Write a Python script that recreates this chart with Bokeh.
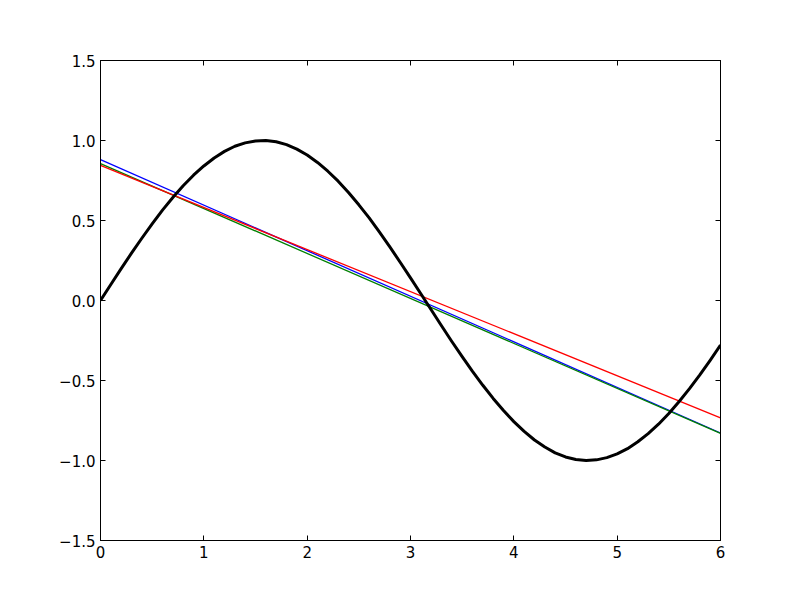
from bokeh.plotting import figure
from bokeh.models import Range1d, LinearAxis, FixedTicker, CustomJSTickFormatter
from bokeh.embed import file_html
from bokeh.resources import INLINE

curve_x = [0.0, 0.1, 0.2, 0.3, 0.4, 0.5, 0.6, 0.7, 0.8, 0.9, 1.0, 1.1, 1.2, 1.3, 1.4, 1.5,
           1.6, 1.7, 1.8, 1.9, 2.0, 2.1, 2.2, 2.3, 2.4, 2.5, 2.6, 2.7, 2.8, 2.9, 3.0,
           3.1, 3.2, 3.3, 3.4, 3.5, 3.6, 3.7, 3.8, 3.9, 4.0, 4.1, 4.2, 4.3, 4.4, 4.5,
           4.6, 4.7, 4.8, 4.9, 5.0, 5.1, 5.2, 5.3, 5.4, 5.5, 5.6, 5.7, 5.8, 5.9, 6.0]
curve_y = [0.000, 0.100, 0.199, 0.296, 0.389, 0.479, 0.565, 0.644, 0.717, 0.783, 0.841,
           0.891, 0.932, 0.964, 0.985, 0.997, 1.000, 0.992, 0.974, 0.946, 0.909,
           0.863, 0.808, 0.746, 0.675, 0.598, 0.516, 0.427, 0.335, 0.239, 0.141,
           0.042, -0.058, -0.158, -0.256, -0.351, -0.443, -0.530, -0.612, -0.688, -0.757,
           -0.818, -0.872, -0.916, -0.952, -0.978, -0.994, -1.000, -0.996, -0.982, -0.959,
           -0.926, -0.883, -0.832, -0.773, -0.706, -0.631, -0.551, -0.465, -0.374, -0.279]

# Fitted lines: endpoints at x=0 and x=6
line_x = [0.0, 6.0]
blue_y = [0.881, -0.828]
green_y = [0.856, -0.830]
red_y = [0.844, -0.733]

x_ticks = [0, 1, 2, 3, 4, 5, 6]
y_ticks = [-1.5, -1.0, -0.5, 0.0, 0.5, 1.0, 1.5]
y_labels = ["\u22121.5", "\u22121.0", "\u22120.5", "0.0", "0.5", "1.0", "1.5"]

FONT = "DejaVu Sans"
FSIZE = "15px"

p = figure(width=800, height=600, output_backend="svg", toolbar_location=None,
           x_range=Range1d(0, 6), y_range=Range1d(-1.5, 1.5),
           min_border_left=100, min_border_right=80, min_border_top=60, min_border_bottom=60,
           x_axis_location=None, y_axis_location=None)
p.grid.visible = False
p.outline_line_color = "black"
p.outline_line_width = 1
p.background_fill_color = "white"
p.border_fill_color = "white"

def style(ax, labels=True):
    ax.major_tick_in = 5
    ax.major_tick_out = 0
    ax.minor_tick_in = 0
    ax.minor_tick_out = 0
    ax.axis_line_color = "black"
    ax.major_tick_line_color = "black"
    ax.major_label_text_font = FONT
    ax.major_label_text_font_size = FSIZE
    ax.major_label_text_color = "black"
    ax.major_label_standoff = 5
    if not labels:
        ax.formatter = CustomJSTickFormatter(code="return '';")

bottom = LinearAxis(ticker=FixedTicker(ticks=x_ticks))
bottom.major_label_overrides = {t: str(t) for t in x_ticks}
style(bottom)
p.add_layout(bottom, "below")

top = LinearAxis(ticker=FixedTicker(ticks=x_ticks))
style(top, labels=False)
p.add_layout(top, "above")

left = LinearAxis(ticker=FixedTicker(ticks=y_ticks))
left.major_label_overrides = {t: l for t, l in zip(y_ticks, y_labels)}
style(left)
p.add_layout(left, "left")

right = LinearAxis(ticker=FixedTicker(ticks=y_ticks))
style(right, labels=False)
p.add_layout(right, "right")

p.line(line_x, blue_y, line_color="#0000ff", line_width=1.3)
p.line(line_x, green_y, line_color="#008000", line_width=1.3)
p.line(line_x, red_y, line_color="#ff0000", line_width=1.3)
p.line(curve_x, curve_y, line_color="black", line_width=3, line_join="round")

open("out.html", "w").write(file_html(p, INLINE))
